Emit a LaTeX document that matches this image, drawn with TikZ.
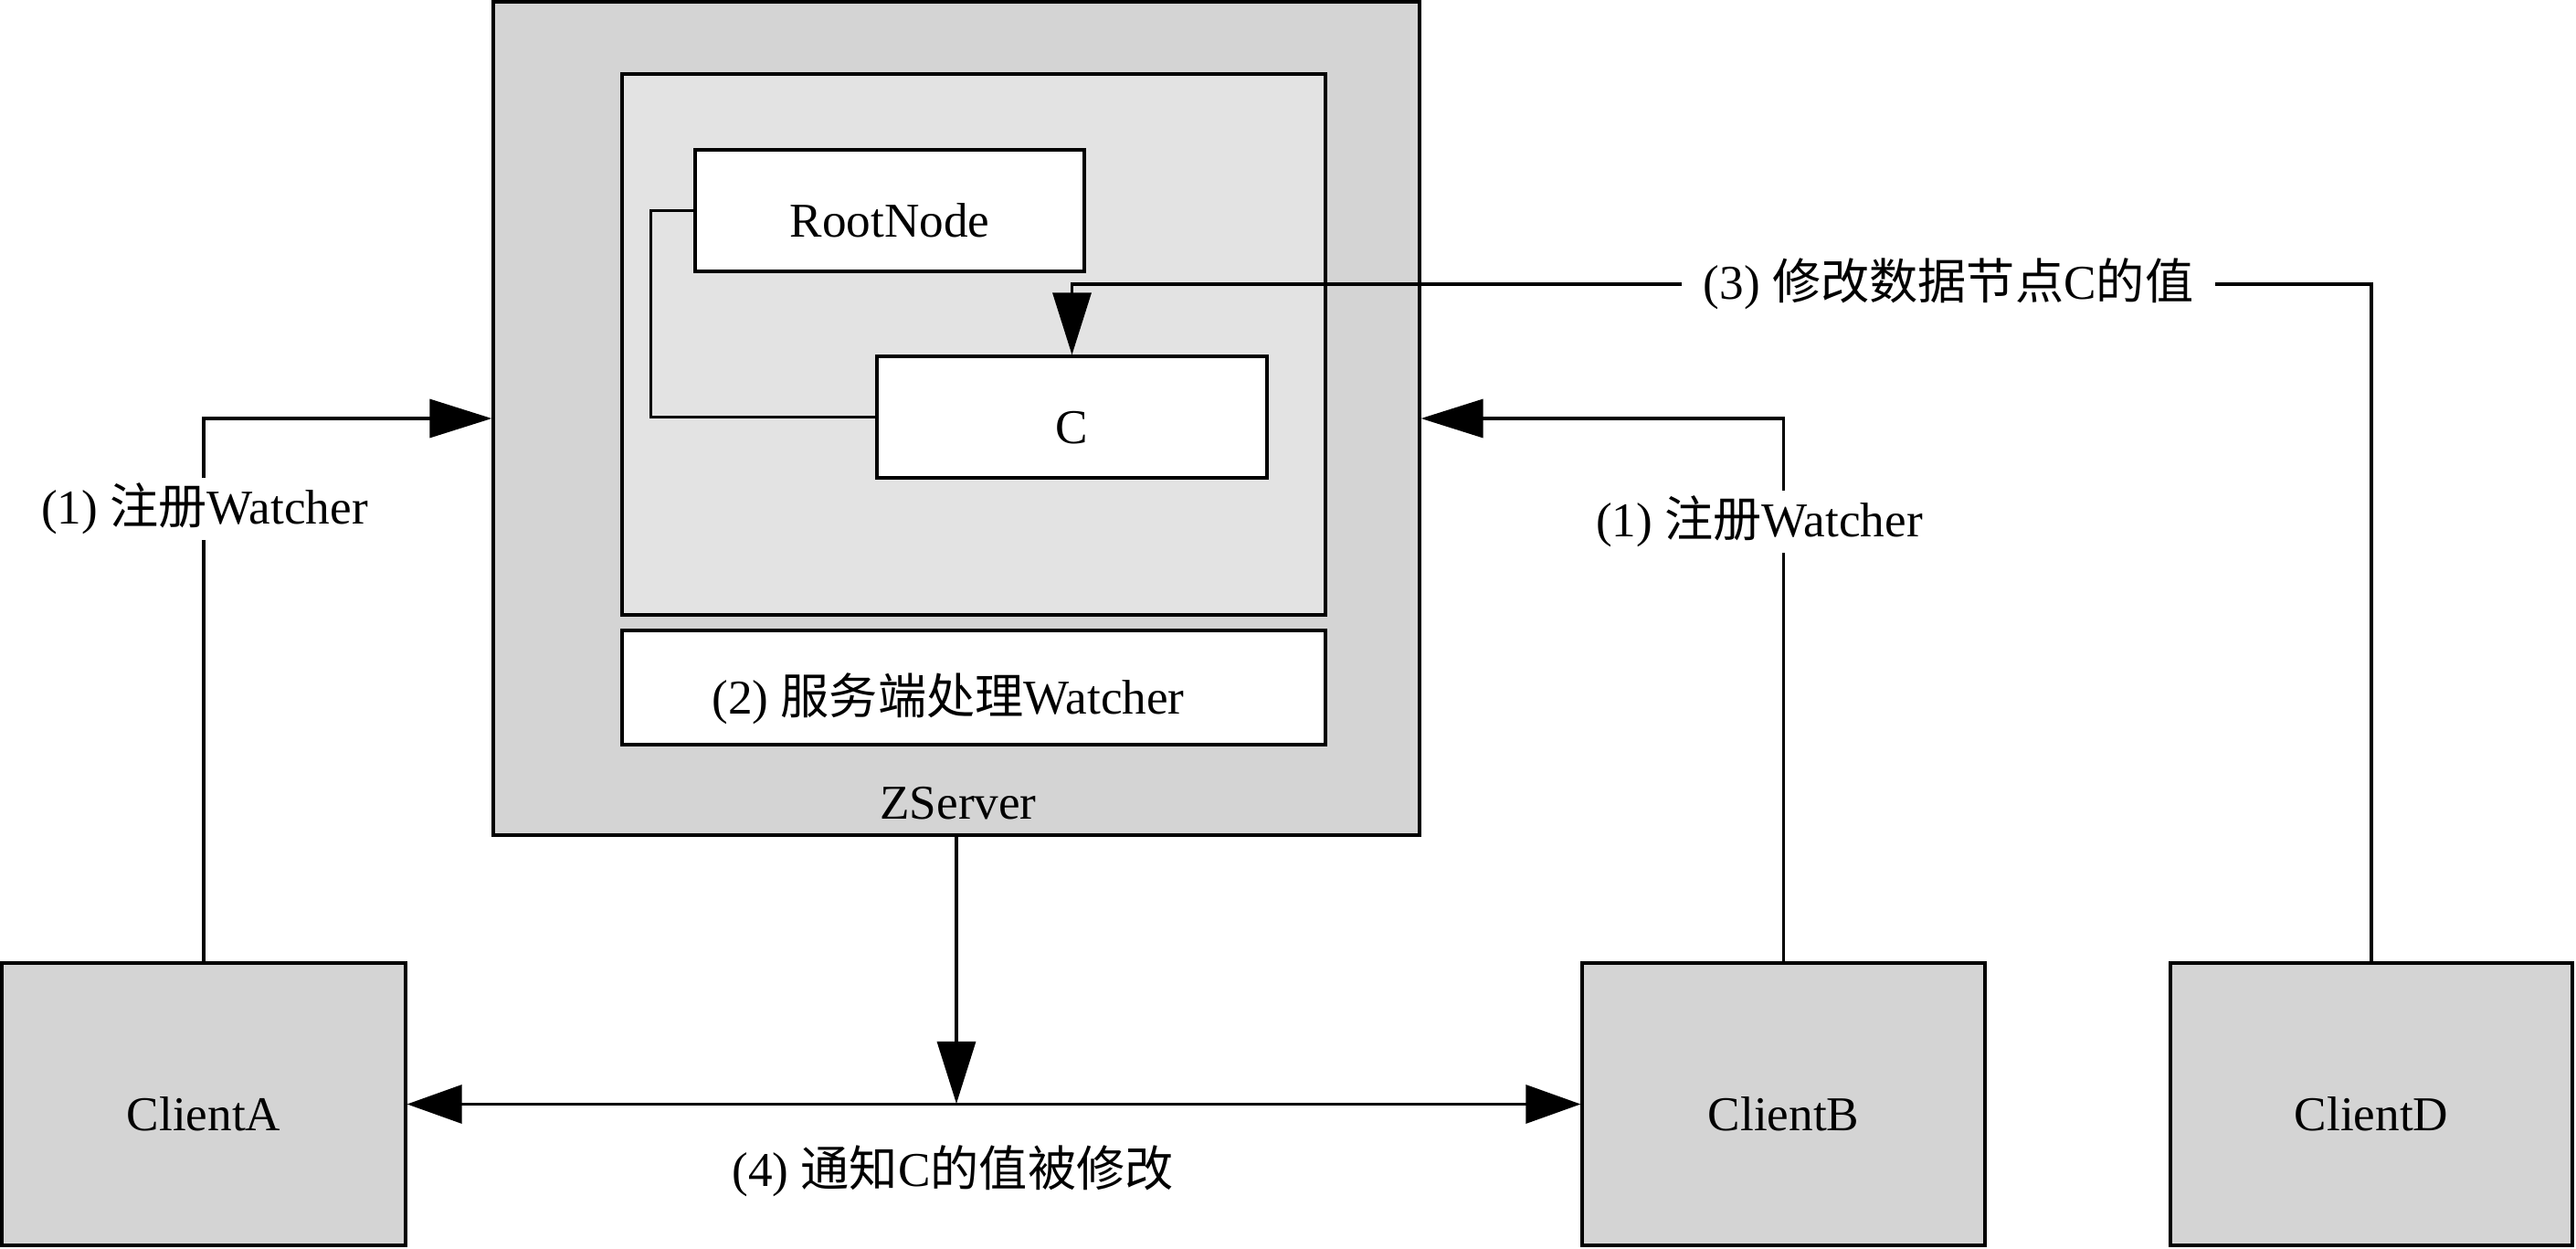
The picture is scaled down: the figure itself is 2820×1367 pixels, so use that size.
\documentclass[tikz,border=0pt]{standalone}
\usepackage{fontspec}
\setmainfont{Liberation Serif}
\newfontfamily\cjk{Noto Sans CJK SC}
\usetikzlibrary{arrows.meta}
\definecolor{boxgray}{RGB}{212,212,212}
\definecolor{innergray}{RGB}{227,227,227}
\tikzset{
  px/.style={x=0.25pt,y=-0.25pt},
  box/.style={draw=black,line width=0.8pt,inner sep=0pt,text height=14.4pt,text depth=0pt,font=\fontsize{13.3}{15}\selectfont},
  graybox/.style={box,fill=boxgray},
  whitebox/.style={box,fill=white},
  lbl/.style={inner sep=1.5pt,font=\fontsize{13.3}{15}\selectfont},
  wire/.style={line width=0.8pt},
  arr/.style={wire,-{Triangle[length=17pt,width=10.5pt]}},
  darr/.style={wire,{Triangle[length=15pt,width=10.5pt]}-{Triangle[length=15pt,width=10.5pt]}},
}
\begin{document}
\begin{tikzpicture}[px]
\useasboundingbox (0,0) rectangle (2820,1367);
% ZServer
\node[graybox,minimum width=253.5pt,minimum height=228pt] (zs) at (1047,458) {};
\node[lbl] (zslbl) at (1049,879) {ZServer};
\node[box,fill=innergray,minimum width=192.5pt,minimum height=148pt] (inner) at (1066,377) {};
\node[whitebox,minimum width=106.5pt,minimum height=33.25pt] (root) at (974,230.5) {RootNode};
\node[whitebox,minimum width=106.75pt,minimum height=33.25pt] (c) at (1173.5,456.5) {C};
\node[whitebox,minimum width=192.5pt,minimum height=31.25pt] (proc) at (1066,752.5) {(2) {\cjk 服务端处理}Watcher\hspace*{14pt}};
% clients
\node[graybox,minimum width=110.5pt,minimum height=77.25pt] (ca) at (223,1208.5) {ClientA};
\node[graybox,minimum width=110.25pt,minimum height=77.25pt] (cb) at (1952.5,1208.5) {ClientB};
\node[graybox,minimum width=110pt,minimum height=77.25pt] (cd) at (2596,1208.5) {ClientD};
% root -> C
\draw[wire] (root.west) -- ++(-47,0) |- (c.west);
% (1) left
\draw[arr] (ca.north) |- (zs.west);
\node[lbl,fill=white] (l1a) at (224,557) {(1) {\cjk 注册}Watcher};
% (1) right
\draw[arr] (cb.north) |- (zs.east);
\node[lbl,fill=white] (l1b) at (1926,571) {(1) {\cjk 注册}Watcher};
% (3)
\coordinate (dturn) at (1173.5,311);
\draw[arr] (cd.north) |- (dturn) -- (c.north);
\node[lbl,fill=white,inner xsep=6pt] (l3) at (2133,311) {(3) {\cjk 修改数据节点}C{\cjk 的值}};
% (4)
\coordinate (mid) at (1047,1208);
\draw[arr] (zs.south) -- (mid);
\draw[darr] (ca.east) -- (cb.west);
\node[lbl] (l4) at (1043,1282) {(4) {\cjk 通知}C{\cjk 的值被修改}};
\end{tikzpicture}
\end{document}
